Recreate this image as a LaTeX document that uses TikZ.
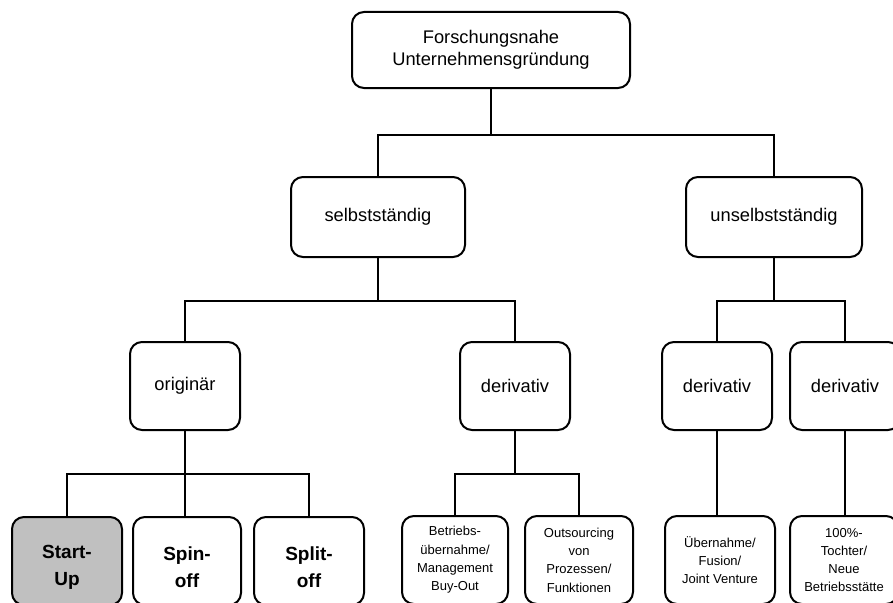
\documentclass[tikz,border=0pt]{standalone}
\usepackage{fontspec}
\setmainfont{Liberation Sans}
\definecolor{boxgray}{RGB}{192,192,192}
\begin{document}
\begin{tikzpicture}[x=1pt,y=-1pt,
  box/.style={draw=black, line width=2pt, rounded corners=12pt, fill=white, inner sep=0pt, align=center},
  midtxt/.style={font=\fontsize{18.3}{22}\selectfont},
  smalltxt/.style={font=\fontsize{13}{18.3}\selectfont},
  boldtxt/.style={inner sep=0pt, align=center, font=\fontsize{19}{27}\selectfont\bfseries},
  conn/.style={draw=black, line width=2pt}
]
\useasboundingbox (0,0) rectangle (893,602);
% level 0
\node[box, midtxt, minimum width=278pt, minimum height=76pt] (root) at (491,50) {Forschungsnahe\\Unternehmensgründung};
% level 1
\node[box, midtxt, minimum width=174pt, minimum height=80pt] (selb) at (378,217) {selbstständig};
\node[box, midtxt, minimum width=176pt, minimum height=80pt] (unselb) at (774,217) {unselbstständig};
% level 2
\node[box, midtxt, minimum width=110pt, minimum height=88pt] (orig) at (185,386) {originär};
\node[box, midtxt, minimum width=110pt, minimum height=88pt] (derA) at (515,386) {derivativ};
\node[box, midtxt, minimum width=110pt, minimum height=88pt] (derB) at (717,386) {derivativ};
\node[box, midtxt, minimum width=110pt, minimum height=88pt] (derC) at (845,386) {derivativ};
% level 3
\node[box, fill=boxgray, minimum width=110pt, minimum height=88pt] (start) at (67,561) {};
\node[box, minimum width=108pt, minimum height=88pt] (spin) at (187,561) {};
\node[box, minimum width=110pt, minimum height=88pt] (split) at (309,561) {};
\node[boldtxt] (startT) at (67,567) {Start-\\Up};
\node[boldtxt] (spinT) at (187,567) {Spin-\\off};
\node[boldtxt] (splitT) at (309,567) {Split-\\off};
\node[box, smalltxt, minimum width=106pt, minimum height=88pt] (betr) at (455,560) {Betriebs-\\übernahme/\\Management\\Buy-Out};
\node[box, smalltxt, minimum width=108pt, minimum height=88pt] (outs) at (579,560) {Outsourcing\\von\\Prozessen/\\Funktionen};
\node[box, smalltxt, minimum width=110pt, minimum height=88pt] (ueber) at (720,560) {Übernahme/\\Fusion/\\Joint Venture};
\node[box, smalltxt, minimum width=108pt, minimum height=88pt] (hund) at (844,560) {100\%-\\Tochter/\\Neue\\Betriebsstätte};
% connectors
\draw[conn] (root.south) -- ++(0,46) -| (selb.north);
\draw[conn] (root.south) ++(0,46) -| (unselb.north);
\draw[conn] (selb.south) -- ++(0,43) -| (orig.north);
\draw[conn] (selb.south) ++(0,43) -| (derA.north);
\draw[conn] (unselb.south) -- ++(0,43) -| (derB.north);
\draw[conn] (unselb.south) ++(0,43) -| (derC.north);
\draw[conn] (orig.south) -- ++(0,43) -| (start.north);
\draw[conn] (orig.south) ++(0,43) -| (split.north);
\draw[conn] (orig.south) ++(0,43) -- (orig.south |- spin.north);
\draw[conn] (derA.south) -- ++(0,43) -| (betr.north);
\draw[conn] (derA.south) ++(0,43) -| (outs.north);
\draw[conn] (derB.south) -- (derB.south |- ueber.north);
\draw[conn] (derC.south) -- (derC.south |- hund.north);
\end{tikzpicture}
\end{document}
